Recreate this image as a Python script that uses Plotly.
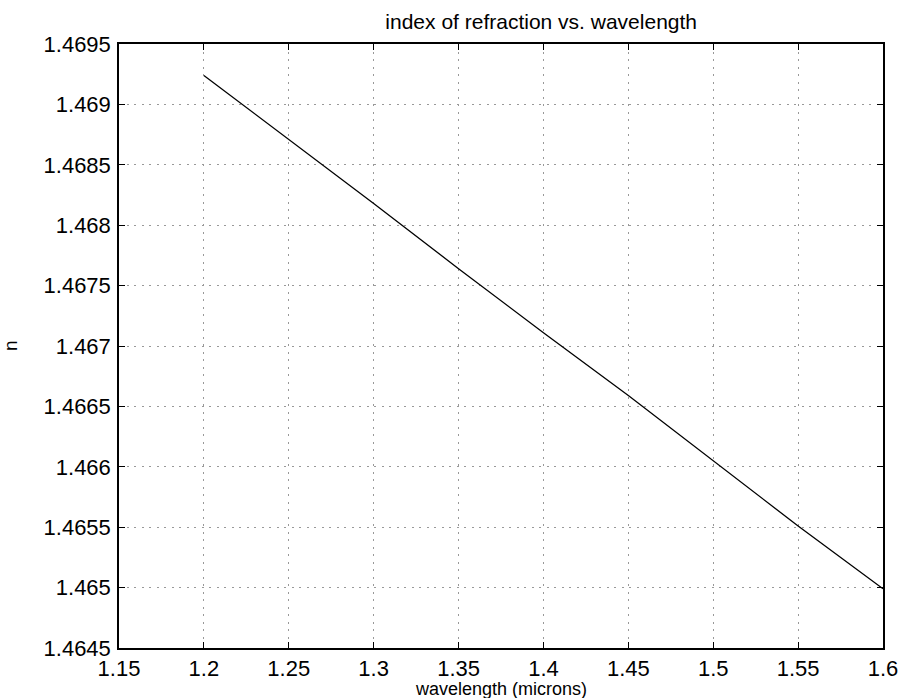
import plotly.graph_objects as go

wavelength = [1.20, 1.25, 1.30, 1.35, 1.40, 1.45, 1.50, 1.55, 1.60]
n_index = [1.46924, 1.46871, 1.46818, 1.46764, 1.46711, 1.46659, 1.46605, 1.46551, 1.46499]

x_ticks = [1.15, 1.2, 1.25, 1.3, 1.35, 1.4, 1.45, 1.5, 1.55, 1.6]
x_ticktext = ["1.15", "1.2", "1.25", "1.3", "1.35", "1.4", "1.45", "1.5", "1.55", "1.6"]
y_ticks = [1.4645, 1.465, 1.4655, 1.466, 1.4665, 1.467, 1.4675, 1.468, 1.4685, 1.469, 1.4695]
y_ticktext = ["1.4645", "1.465", "1.4655", "1.466", "1.4665", "1.467", "1.4675", "1.468", "1.4685", "1.469", "1.4695"]

title_text = "index of refraction vs. wavelength"
x_label = "wavelength (microns)"
y_label = "n"

FONT = "Liberation Sans, Arial, Helvetica, sans-serif"

fig = go.Figure()
fig.add_trace(go.Scatter(x=wavelength, y=n_index, mode="lines",
                         line=dict(color="black", width=1.3), showlegend=False))

axis_common = dict(
    showline=True, linecolor="black", linewidth=1.5, mirror="ticks",
    ticks="inside", ticklen=6, tickcolor="black", tickwidth=1,
    showgrid=True, gridcolor="#999999", griddash="2px,5.5px", gridwidth=1,
    zeroline=False, automargin=False,
    tickfont=dict(family=FONT, size=22, color="black"),
)

fig.update_layout(
    width=903, height=698,
    margin=dict(l=119, r=20, t=44, b=50, autoexpand=False),
    paper_bgcolor="white", plot_bgcolor="white",
    title=dict(text=title_text, x=499 / 903, xanchor="center", xref="paper",
               y=1 - 22 / 698, yanchor="middle",
               font=dict(family=FONT, size=21, color="black")),
    xaxis=dict(range=[1.15, 1.6], tickvals=x_ticks, ticktext=x_ticktext,
               ticklabelstandoff=0, **axis_common),
    yaxis=dict(range=[1.4645, 1.4695], tickvals=y_ticks, ticktext=y_ticktext,
               ticklabelstandoff=2, **axis_common),
    annotations=[
        dict(text=x_label, xref="paper", yref="paper", x=0.5, y=0,
             xanchor="center", yanchor="middle", yshift=-41, showarrow=False,
             font=dict(family=FONT, size=18, color="black")),
        dict(text=y_label, xref="paper", yref="paper", x=0, y=0.5,
             xanchor="center", yanchor="middle", xshift=-109, textangle=-90,
             showarrow=False, font=dict(family=FONT, size=19, color="black")),
    ],
)

fig.write_html("out.html", config={"displayModeBar": False},
               post_script="document.body.style.margin='0';document.body.style.overflow='hidden';")
